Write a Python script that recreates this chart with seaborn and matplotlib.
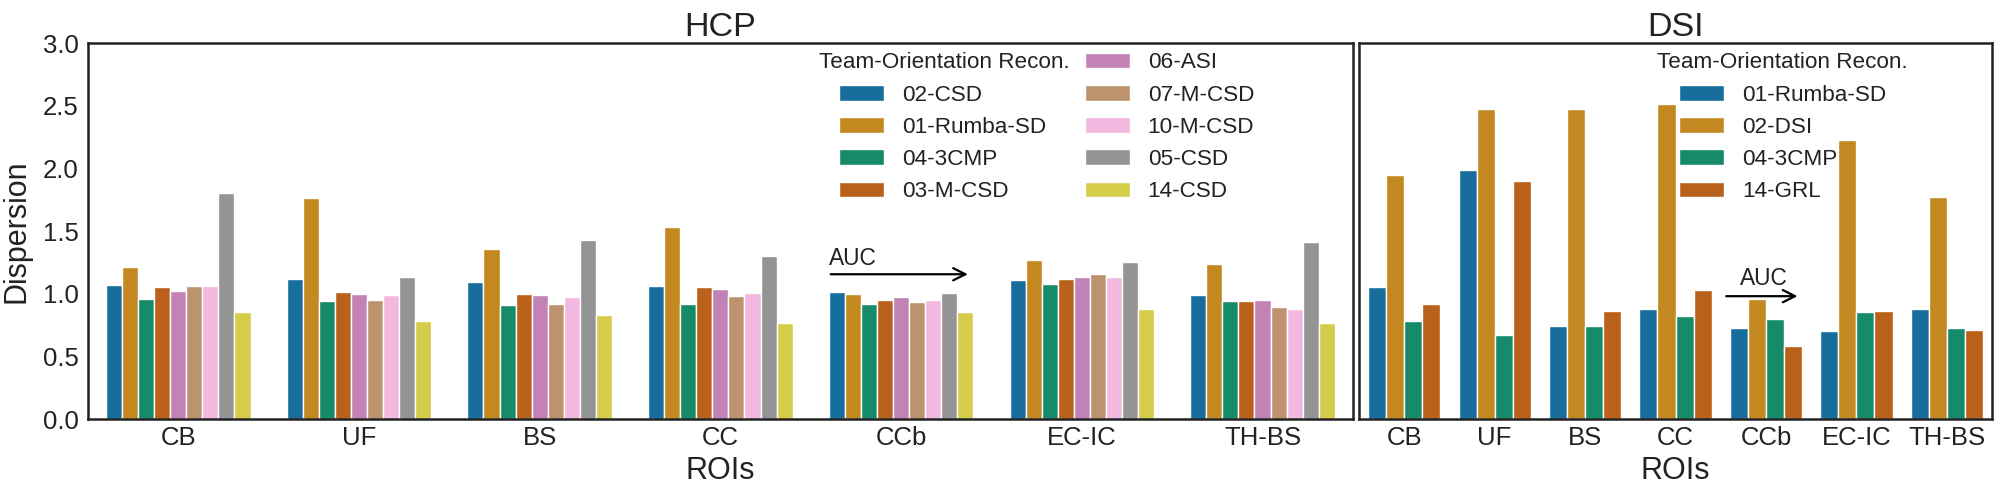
import matplotlib
matplotlib.use("Agg")
import matplotlib.pyplot as plt
import numpy as np
import pandas as pd
import seaborn as sns
from matplotlib.patches import Patch

rois = ["CB", "UF", "BS", "CC", "CCb", "EC-IC", "TH-BS"]

hcp_teams = ["02-CSD", "01-Rumba-SD", "04-3CMP", "03-M-CSD", "06-ASI",
             "07-M-CSD", "10-M-CSD", "05-CSD", "14-CSD"]
hcp_02_csd = [1.07, 1.12, 1.09, 1.06, 1.01, 1.11, 0.99]
hcp_01_rumba = [1.21, 1.76, 1.36, 1.53, 1.00, 1.27, 1.235]
hcp_04_3cmp = [0.96, 0.94, 0.91, 0.915, 0.92, 1.08, 0.94]
hcp_03_mcsd = [1.05, 1.01, 1.00, 1.05, 0.95, 1.12, 0.94]
hcp_06_asi = [1.02, 0.995, 0.99, 1.035, 0.97, 1.13, 0.95]
hcp_07_mcsd = [1.06, 0.95, 0.92, 0.98, 0.935, 1.16, 0.89]
hcp_10_mcsd = [1.06, 0.99, 0.97, 1.005, 0.95, 1.13, 0.88]
hcp_05_csd = [1.80, 1.13, 1.43, 1.30, 1.005, 1.255, 1.41]
hcp_14_csd = [0.85, 0.78, 0.83, 0.765, 0.855, 0.88, 0.77]

dsi_teams = ["01-Rumba-SD", "02-DSI", "04-3CMP", "14-GRL"]
dsi_01_rumba = [1.05, 1.99, 0.74, 0.88, 0.73, 0.70, 0.875]
dsi_02_dsi = [1.95, 2.47, 2.47, 2.51, 0.96, 2.23, 1.77]
dsi_04_3cmp = [0.78, 0.67, 0.745, 0.82, 0.80, 0.85, 0.725]
dsi_14_grl = [0.92, 1.90, 0.86, 1.03, 0.585, 0.86, 0.71]


def long_table(teams, series):
    rows = []
    for team, vals in zip(teams, series):
        for roi, v in zip(rois, vals):
            rows.append({"ROI": roi, "Team": team, "Dispersion": v})
    return pd.DataFrame(rows)


hcp_df = long_table(hcp_teams, [hcp_02_csd, hcp_01_rumba, hcp_04_3cmp, hcp_03_mcsd,
                                hcp_06_asi, hcp_07_mcsd, hcp_10_mcsd, hcp_05_csd, hcp_14_csd])
dsi_df = long_table(dsi_teams, [dsi_01_rumba, dsi_02_dsi, dsi_04_3cmp, dsi_14_grl])

sns.set_style("white")
plt.rcParams["font.family"] = ["Liberation Sans", "DejaVu Sans"]
dark = "#222222"
plt.rcParams["axes.edgecolor"] = dark
plt.rcParams["text.color"] = dark
plt.rcParams["axes.labelcolor"] = dark
plt.rcParams["xtick.color"] = dark
plt.rcParams["ytick.color"] = dark

fig = plt.figure(figsize=(19.98, 4.87), dpi=100)
ax1 = fig.add_axes([0.0440, 0.1396, 0.6331, 0.7721])
ax2 = fig.add_axes([0.6802, 0.1396, 0.3168, 0.7721])

palette = sns.color_palette("colorblind")
leg_fs = 16.2

for ax, df, teams, title in [(ax1, hcp_df, hcp_teams, "HCP"), (ax2, dsi_df, dsi_teams, "DSI")]:
    sns.barplot(data=df, x="ROI", y="Dispersion", hue="Team", hue_order=teams,
                order=rois, palette=palette[:len(teams)], ax=ax, legend=False)
    ax.set_ylim(0, 3.0)
    ax.set_title(title, fontsize=24.5, pad=5)
    ax.set_xlabel("ROIs", fontsize=22, labelpad=4)
    ax.tick_params(axis="x", length=0, labelsize=18.5, pad=5)
    ax.tick_params(axis="y", length=0, labelsize=18.5, pad=6.5)
    for s in ax.spines.values():
        s.set_visible(True)
        s.set_linewidth(1.8)
        s.set_color(dark)

ax1.set_ylabel("Dispersion", fontsize=22, labelpad=8)
ax1.set_yticks(np.arange(0, 3.01, 0.5))
ax2.set_ylabel("")
ax2.set_yticks([])


def team_legend(ax, teams, ncol, x, title_x):
    handles = [Patch(facecolor="none", edgecolor="none")]
    handles += [Patch(facecolor=sns.desaturate(palette[i], 0.75)) for i in range(len(teams))]
    labels = [" "] + teams
    leg = ax.legend(handles, labels, ncol=ncol, loc="upper left",
                    bbox_to_anchor=(x, 0.975), frameon=False, fontsize=leg_fs,
                    handlelength=2.0, handleheight=0.7, handletextpad=0.8,
                    columnspacing=1.7, labelspacing=0.5, borderaxespad=0,
                    borderpad=0)
    ax.text(title_x, 0.947, "Team-Orientation Recon.", transform=ax.transAxes,
            fontsize=leg_fs, ha="left", va="center")
    return leg


team_legend(ax1, hcp_teams, 2, 0.594, 0.578)
team_legend(ax2, dsi_teams, 1, 0.506, 0.471)

# AUC arrows
ax1.annotate("", xy=(4.385, 1.155), xytext=(3.595, 1.155),
             arrowprops=dict(arrowstyle="->", lw=1.6, color="black", mutation_scale=22))
ax1.text(3.6, 1.19, "AUC", fontsize=16.4, ha="left", va="bottom")
ax2.annotate("", xy=(4.38, 0.98), xytext=(3.53, 0.98),
             arrowprops=dict(arrowstyle="->", lw=1.6, color="black", mutation_scale=22))
ax2.text(3.71, 1.03, "AUC", fontsize=16.4, ha="left", va="bottom")

fig.savefig("out.png", dpi=100)
